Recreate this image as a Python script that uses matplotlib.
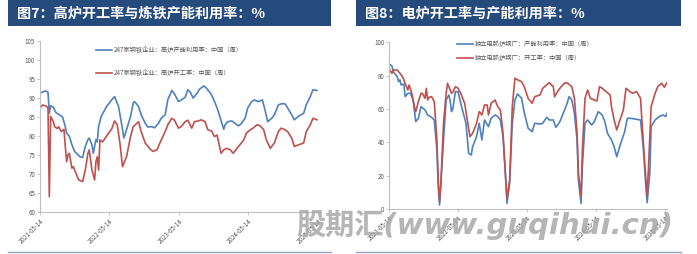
import matplotlib
matplotlib.use('Agg')  # no display
import matplotlib.pyplot as plt
from matplotlib.patches import Rectangle
from matplotlib.lines import Line2D
import pandas as pd

plt.rcParams['font.family'] = ['Noto Sans CJK SC', 'DejaVu Sans']

START = pd.Timestamp('2021-05-14')

# 图7: 247家钢铁企业 (weeks counted from 2021-05-14)
bf_util_weeks = [0, 4, 6, 7, 8, 10, 12, 15, 17, 19, 20, 22, 24, 26, 30, 32, 34, 36, 37, 39,
                 40, 41, 42, 43, 44, 46, 48, 50, 54, 56, 59, 62, 63, 65, 68, 70, 71, 74, 76, 79,
                 81, 84, 86, 89, 91, 94, 96, 99, 101, 104, 106, 109, 111, 113, 115, 118, 120, 123, 125, 128,
                 130, 133, 135, 138, 139, 141, 144, 146, 149, 151, 154, 156, 159, 161, 164, 167, 169, 171, 174, 176,
                 179, 181, 184, 186, 189, 191, 194, 198, 200, 203, 205, 208]
bf_util = [91.3, 91.9, 91.6, 86.0, 88.0, 87.6, 86.2, 85.5, 85.0, 82.5, 80.8, 80.0, 77.7, 76.0, 74.6, 74.4, 77.3, 79.1, 79.5, 77.7,
           75.5, 77.3, 79.1, 78.5, 82.5, 85.2, 86.5, 87.8, 89.6, 90.4, 87.8, 81.7, 79.5, 81.7, 85.2, 88.7, 89.1, 87.8, 85.6, 83.4,
           82.4, 82.5, 82.2, 83.4, 84.7, 85.6, 89.6, 92.0, 91.1, 89.1, 89.5, 90.2, 92.2, 91.5, 90.0, 91.3, 92.4, 93.2, 92.6, 91.3,
           90.0, 87.4, 85.2, 81.8, 83.0, 83.8, 84.0, 83.5, 82.7, 83.2, 84.7, 87.4, 89.1, 89.5, 89.1, 89.5, 86.9, 83.8, 84.7, 85.6,
           88.2, 88.5, 88.5, 87.4, 85.6, 84.3, 85.2, 86.0, 88.3, 90.4, 92.2, 92.0]

bf_rate_weeks = [0, 2, 5, 6, 7, 8, 10, 11, 13, 14, 16, 18, 19, 20, 21, 22, 24, 25, 27, 29,
                 32, 34, 36, 37, 39, 41, 42, 43, 44, 45, 47, 50, 54, 56, 58, 60, 62, 65, 68, 70,
                 74, 76, 79, 83, 85, 88, 90, 94, 96, 99, 101, 104, 106, 109, 111, 114, 116, 119, 121, 124,
                 126, 129, 131, 133, 134, 136, 138, 140, 143, 145, 148, 150, 153, 155, 158, 160, 163, 165, 168, 170,
                 173, 174, 176, 179, 181, 184, 186, 189, 191, 194, 198, 200, 203, 205, 208]
bf_rate = [87.4, 88.2, 87.8, 87.4, 64.1, 85.2, 83.8, 82.5, 82.0, 82.5, 81.2, 81.8, 77.3, 73.3, 75.1, 75.5, 71.6, 72.0, 70.3, 68.5,
           68.1, 71.1, 75.5, 76.4, 71.1, 68.5, 73.3, 74.6, 71.1, 79.0, 78.5, 80.0, 82.0, 84.0, 83.0, 78.2, 72.0, 74.6, 79.9, 82.5,
           83.8, 81.2, 78.2, 76.5, 76.0, 76.5, 78.2, 81.2, 83.0, 84.7, 84.2, 82.1, 82.5, 83.8, 84.2, 82.1, 83.8, 84.0, 84.3, 83.8,
           81.7, 81.3, 79.9, 80.3, 78.6, 75.5, 76.4, 76.8, 76.4, 75.5, 76.8, 77.7, 79.0, 80.8, 81.7, 82.1, 83.0, 82.8, 81.7, 79.0,
           76.8, 77.3, 78.2, 81.2, 82.1, 81.7, 81.2, 79.5, 77.3, 77.7, 78.2, 81.2, 83.0, 84.7, 84.3]

# 图8: 独立电弧炉钢厂
eaf_util_weeks = [0, 2, 3, 6, 7, 8, 9, 11, 12, 14, 16, 18, 20, 22, 24, 27, 29, 32, 34, 36,
                  37, 38, 39, 41, 43, 45, 46, 47, 48, 50, 52, 54, 56, 58, 60, 62, 63, 66, 68, 70,
                  72, 75, 77, 80, 82, 84, 86, 88, 89, 91, 93, 95, 97, 100, 102, 105, 108, 110, 114, 116,
                  119, 121, 124, 126, 129, 131, 134, 136, 138, 140, 142, 143, 145, 146, 148, 150, 153, 155, 158, 161,
                  163, 165, 168, 170, 172, 175, 178, 180, 183, 187, 190, 192, 194, 195, 197, 198, 201, 204, 207, 209, 210]
eaf_util = [87.0, 85.8, 82.4, 79.4, 76.4, 77.5, 74.4, 75.0, 67.4, 69.4, 69.4, 65.4, 52.4, 54.4, 61.4, 59.4, 56.4, 55.0, 53.4, 35.4,
            13.4, 2.4, 15.0, 41.4, 65.4, 68.4, 65.0, 58.4, 60.0, 70.4, 70.4, 63.4, 57.4, 51.4, 33.4, 32.4, 37.4, 43.4, 51.4, 41.4,
            53.4, 49.4, 54.4, 56.4, 55.5, 53.4, 43.4, 19.4, 3.4, 15.4, 51.4, 65.4, 69.0, 66.5, 58.0, 48.4, 46.4, 51.4, 51.0, 51.4,
            55.0, 53.4, 53.4, 49.0, 52.4, 56.4, 62.4, 67.4, 65.4, 57.4, 41.4, 17.4, 3.4, 25.4, 51.4, 53.4, 50.4, 52.4, 58.4, 56.4,
            52.4, 45.4, 41.4, 37.4, 31.4, 39.4, 46.4, 54.4, 54.4, 53.8, 53.4, 37.4, 13.4, 3.8, 21.4, 49.4, 53.4, 55.4, 56.4, 55.5, 57.4]

eaf_rate_weeks = [0, 2, 3, 6, 8, 10, 12, 14, 15, 17, 19, 20, 22, 24, 25, 27, 28, 29, 30, 32,
                  34, 36, 37, 38, 39, 41, 43, 44, 45, 47, 48, 50, 52, 54, 57, 59, 61, 63, 66, 68,
                  70, 72, 74, 75, 77, 80, 82, 84, 86, 88, 89, 91, 93, 95, 97, 100, 102, 105, 108, 110,
                  114, 116, 119, 121, 124, 125, 128, 130, 133, 135, 138, 140, 142, 143, 145, 146, 148, 150, 152, 155,
                  157, 159, 161, 164, 167, 168, 170, 172, 174, 177, 179, 182, 184, 187, 190, 191, 193, 195, 196, 198,
                  201, 203, 206, 208, 210]
eaf_rate = [83.8, 81.4, 83.4, 83.4, 81.4, 79.4, 75.4, 71.4, 74.4, 69.4, 61.4, 58.4, 64.4, 69.4, 69.4, 66.4, 72.4, 65.4, 67.0, 67.4,
            64.4, 41.4, 17.4, 4.4, 15.4, 51.4, 69.4, 75.4, 73.4, 69.4, 70.0, 73.4, 72.4, 69.4, 63.4, 53.4, 43.4, 45.4, 51.4, 58.4,
            56.4, 62.4, 62.4, 56.4, 63.4, 65.4, 61.4, 59.4, 45.4, 17.4, 6.4, 17.4, 61.4, 78.4, 77.5, 76.4, 73.4, 66.4, 63.4, 67.4,
            68.4, 72.4, 74.4, 75.8, 73.4, 67.4, 71.4, 73.4, 75.8, 75.4, 73.4, 66.4, 45.4, 21.4, 7.4, 35.4, 66.4, 71.4, 66.4, 65.4,
            64.8, 73.4, 72.4, 70.4, 68.4, 61.4, 53.4, 47.4, 52.4, 59.4, 72.4, 70.4, 69.4, 70.4, 66.4, 53.4, 29.4, 7.4, 25.4, 61.4,
            69.4, 73.4, 75.4, 73.0, 75.8]

tick_dates = ['2021-05-14', '2022-05-14', '2023-05-14', '2024-05-14', '2025-05-14']

titles = ['图7：高炉开工率与炼铁产能利用率：%', '图8：电炉开工率与产能利用率：%']
labels_bf = ['247家钢铁企业：高炉产能利用率：中国（周）', '247家钢铁企业：高炉开工率：中国（周）']
labels_eaf = ['独立电弧炉钢厂：产能利用率：中国（周）', '独立电弧炉钢厂：开工率：中国（周）']

BLUE = '#4F81BD'
RED = '#C0504D'
BAR = '#254b7d'
GREY = '#595959'
W, H = 697, 254


def to_dates(weeks):
    return START + pd.to_timedelta([w * 7 for w in weeks], unit='D')


def style_axes(ax):
    for s in ['top', 'right']:
        ax.spines[s].set_visible(False)
    for s in ['left', 'bottom']:
        ax.spines[s].set_color('#bfbfbf')
        ax.spines[s].set_linewidth(0.8)
    ax.tick_params(axis='both', labelsize=4.5, colors='#bfbfbf', labelcolor=GREY,
                   length=2, width=0.6, pad=1.5)
    ticks = pd.to_datetime(tick_dates)
    ax.set_xticks(ticks)
    ax.set_xticklabels(tick_dates, rotation=45, ha='right', rotation_mode='anchor')


fig = plt.figure(figsize=(W / 100, H / 100), dpi=100)

# title bars and bottom rules
for x0, x1, t in [(8, 331, titles[0]), (356, 681, titles[1])]:
    fig.add_artist(Rectangle((x0 / W, 1 - 26 / H), (x1 - x0) / W, 26 / H,
                             transform=fig.transFigure, color=BAR, lw=0))
    fig.text((x0 + 9) / W, 1 - 13.5 / H, t, color='white', fontsize=10.2,
             fontweight='bold', va='center', ha='left')
    fig.add_artist(Line2D([x0 / W, x1 / W], [1 - 252 / H] * 2,
                          transform=fig.transFigure, color='#8fa5c2', lw=1.0))

# left chart
ax1 = fig.add_axes([40 / W, 1 - 212.3 / H, 280 / W, 171.3 / H])
ax1.plot(to_dates(bf_util_weeks), bf_util, color=BLUE, lw=1.2, label=labels_bf[0])
ax1.plot(to_dates(bf_rate_weeks), bf_rate, color=RED, lw=1.2, label=labels_bf[1])
ax1.set_ylim(60, 105)
ax1.set_yticks(range(60, 106, 5))
ax1.set_xlim(START, pd.Timestamp('2025-05-25'))
style_axes(ax1)
ax1.legend(loc='upper left', bbox_to_anchor=(0.19, 0.985), frameon=False, fontsize=4.5,
           handlelength=2.6, handletextpad=0.3, labelspacing=2.4, borderaxespad=0,
           labelcolor=GREY)

# right chart
ax2 = fig.add_axes([389.3 / W, 1 - 209 / H, 277.7 / W, 166.7 / H])
ax2.plot(to_dates(eaf_util_weeks), eaf_util, color=BLUE, lw=1.2, label=labels_eaf[0])
ax2.plot(to_dates(eaf_rate_weeks), eaf_rate, color=RED, lw=1.2, label=labels_eaf[1])
ax2.set_ylim(0, 100)
ax2.set_yticks(range(0, 101, 20))
ax2.set_xlim(START, START + pd.Timedelta(days=210 * 7))
style_axes(ax2)
ax2.legend(loc='upper left', bbox_to_anchor=(0.235, 1.03), frameon=False, fontsize=4.5,
           handlelength=2.6, handletextpad=0.3, labelspacing=1.0, borderaxespad=0,
           labelcolor=GREY)

# watermark
fig.text(296 / W, 1 - 225 / H, '股期汇(www.guqihui.cn)', fontsize=21, fontweight='bold',
         style='italic', color='#a8a8a8', alpha=0.85, va='center', ha='left',
         family=['DejaVu Sans', 'Noto Sans CJK SC'])

fig.savefig('out.png', dpi=100)
plt.close(fig)
